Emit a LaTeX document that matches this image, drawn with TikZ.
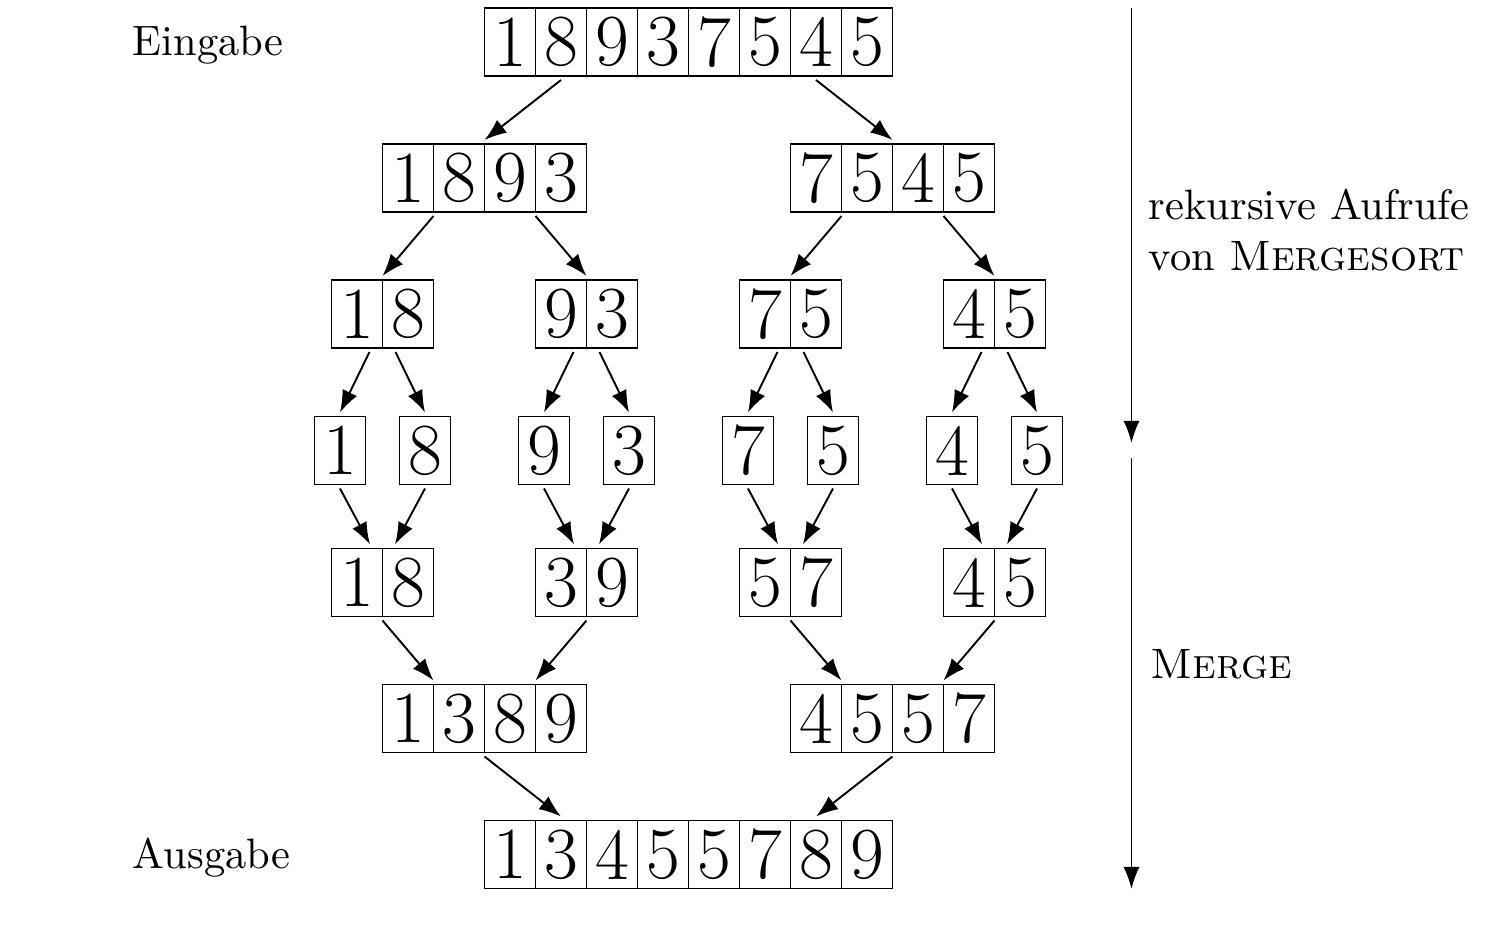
\documentclass[tikz,border=0pt]{standalone}
\usetikzlibrary{arrows.meta,calc}
\tikzset{
  cell/.style={draw, inner sep=0pt, outer sep=0pt, minimum width=12pt, minimum height=16pt, font=\LARGE},
  arr/.style={-{Latex[length=5.2pt,width=3.8pt]}},
  lbl/.style={anchor=base west, inner sep=0pt, font=\normalsize}
}
\newcommand\mkcells[4]{%
  \foreach \d [count=\i] in {#4} {
    \node[cell] (#1-\i) at ({#2+(\i-0.5)*51},#3) {\d};
  }%
}
\begin{document}
\begin{tikzpicture}[x=0.23529pt, y=-0.23529pt, line width=0.45pt]
\useasboundingbox (0,0) rectangle (1493,927);
% rows
\mkcells{in}{484.5}{42}{1,8,9,3,7,5,4,5}
\mkcells{la}{382.5}{178}{1,8,9,3}
\mkcells{lb}{790.5}{178}{7,5,4,5}
\mkcells{ka}{331.5}{314}{1,8}
\mkcells{kb}{535.5}{314}{9,3}
\mkcells{kc}{739.5}{314}{7,5}
\mkcells{kd}{943.5}{314}{4,5}
\mkcells{s1}{314.5}{450.5}{1}
\mkcells{s2}{399.5}{450.5}{8}
\mkcells{s3}{518.5}{450.5}{9}
\mkcells{s4}{603.5}{450.5}{3}
\mkcells{s5}{722.5}{450.5}{7}
\mkcells{s6}{807.5}{450.5}{5}
\mkcells{s7}{926.5}{450.5}{4}
\mkcells{s8}{1011.5}{450.5}{5}
\mkcells{ma}{331.5}{582.5}{1,8}
\mkcells{mb}{535.5}{582.5}{3,9}
\mkcells{mc}{739.5}{582.5}{5,7}
\mkcells{md}{943.5}{582.5}{4,5}
\mkcells{na}{382.5}{718.5}{1,3,8,9}
\mkcells{nb}{790.5}{718.5}{4,5,5,7}
\mkcells{out}{484.5}{854.5}{1,3,4,5,5,7,8,9}
% labels
\node[lbl] (eing) at (132,55) {Eingabe};
\node[lbl] (ausg) at (132,868) {Ausgabe};
\node[lbl] (rek1) at (1148,219) {rekursive Aufrufe};
\node[lbl] (rek2) at (1148,270) {von \textsc{Mergesort}};
\node[lbl] (merge) at (1150,678) {\textsc{Merge}};
% side arrows
\coordinate (v1a) at (1131.5,8);
\coordinate (v1b) at (1131.5,443);
\coordinate (v2a) at (1131.5,458);
\coordinate (v2b) at (1131.5,889);
\draw[arr] (v1a) -- (v1b);
\draw[arr] (v2a) -- (v2b);
% row1 -> row2
\draw[arr] ($(in-2.south)+(0,4)$) -- ($(la-2.north east)+(0,-4)$);
\draw[arr] ($(in-7.south)+(0,4)$) -- ($(lb-2.north east)+(0,-4)$);
% row2 -> row3
\draw[arr] ($(la-1.south east)+(0,4)$) -- ($(ka-1.north east)+(0,-4)$);
\draw[arr] ($(la-3.south east)+(0,4)$) -- ($(kb-1.north east)+(0,-4)$);
\draw[arr] ($(lb-1.south east)+(0,4)$) -- ($(kc-1.north east)+(0,-4)$);
\draw[arr] ($(lb-3.south east)+(0,4)$) -- ($(kd-1.north east)+(0,-4)$);
% row3 -> row4
\foreach \src/\l/\r in {ka/s1/s2, kb/s3/s4, kc/s5/s6, kd/s7/s8} {
  \draw[arr] ($(\src-1.south east)+(-13,4)$) -- ($(\l-1.north)+(0,-4)$);
  \draw[arr] ($(\src-1.south east)+(13,4)$) -- ($(\r-1.north)+(0,-4)$);
}
% row4 -> row5
\foreach \dst/\l/\r in {ma/s1/s2, mb/s3/s4, mc/s5/s6, md/s7/s8} {
  \draw[arr] ($(\l-1.south)+(0,4)$) -- ($(\dst-1.north east)+(-12.5,-4)$);
  \draw[arr] ($(\r-1.south)+(0,4)$) -- ($(\dst-1.north east)+(12.5,-4)$);
}
% row5 -> row6
\draw[arr] ($(ma-1.south east)+(0,4)$) -- ($(na-1.north east)+(0,-4)$);
\draw[arr] ($(mb-1.south east)+(0,4)$) -- ($(na-3.north east)+(0,-4)$);
\draw[arr] ($(mc-1.south east)+(0,4)$) -- ($(nb-1.north east)+(0,-4)$);
\draw[arr] ($(md-1.south east)+(0,4)$) -- ($(nb-3.north east)+(0,-4)$);
% row6 -> row7
\draw[arr] ($(na-2.south east)+(0,4)$) -- ($(out-2.north)+(0,-4)$);
\draw[arr] ($(nb-2.south east)+(0,4)$) -- ($(out-7.north)+(0,-4)$);
\end{tikzpicture}
\end{document}
